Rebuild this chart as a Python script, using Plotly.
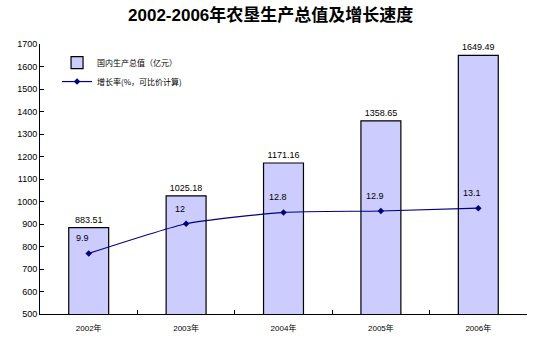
import plotly.graph_objects as go

years = ["2002年", "2003年", "2004年", "2005年", "2006年"]
gdp = [883.51, 1025.18, 1171.16, 1358.65, 1649.49]
growth = [9.9, 12, 12.8, 12.9, 13.1]
gdp_labels = ["883.51", "1025.18", "1171.16", "1358.65", "1649.49"]
growth_labels = ["9.9", "12", "12.8", "12.9", "13.1"]
y_ticks = list(range(500, 1701, 100))

FONT = "Liberation Sans, Arial, Noto Sans CJK SC"

fig = go.Figure()
fig.add_trace(go.Bar(
    x=years, y=gdp, name="国内生产总值（亿元）",
    marker=dict(color="#CCCCFF", line=dict(color="black", width=1.2)),
    text=gdp_labels, textposition="outside", cliponaxis=False,
    textfont=dict(size=9, color="black", family=FONT),
))
fig.add_trace(go.Scatter(
    x=years, y=growth, name="增长率(%，可比价计算)", yaxis="y2",
    mode="lines+markers", line=dict(color="#000080", width=1.2, shape="spline", smoothing=0.5),
    marker=dict(color="#000080", size=5, symbol="diamond"),
))
for xv, yv, t in zip(years, growth, growth_labels):
    fig.add_annotation(x=xv, y=yv, yref="y2", text=t, showarrow=False,
                       xshift=-6, yshift=15, font=dict(size=9, color="black", family=FONT))

fig.update_layout(
    width=536, height=343,
    margin=dict(l=40, r=9, t=44, b=29),
    paper_bgcolor="white", plot_bgcolor="white",
    font=dict(family=FONT, size=9, color="black"),
    title=dict(text="<b>2002-2006年农垦生产总值及增长速度</b>", x=0.505, xanchor="center",
               y=0.955, yanchor="middle", font=dict(size=17, color="black", family="Liberation Sans, Noto Sans CJK SC")),
    bargap=0.59,
    showlegend=True,
    legend=dict(x=0.035, y=0.985, xanchor="left", yanchor="top", bgcolor="rgba(0,0,0,0)",
                font=dict(size=8, family="Noto Sans CJK SC"), tracegroupgap=0, itemwidth=30),
    xaxis=dict(showline=True, linecolor="black", linewidth=1, ticks="inside", ticklen=4,
               tickson="boundaries", tickcolor="black", tickfont=dict(size=8), ticklabelstandoff=6),
    yaxis=dict(range=[500, 1700], tickvals=y_ticks, showgrid=False, showline=True,
               linecolor="black", linewidth=1, ticks="inside", ticklen=4, tickcolor="black",
               tickfont=dict(size=9), zeroline=False),
    yaxis2=dict(range=[5.62, 24.7], overlaying="y", visible=False),
)

fig.write_html("out.html")
